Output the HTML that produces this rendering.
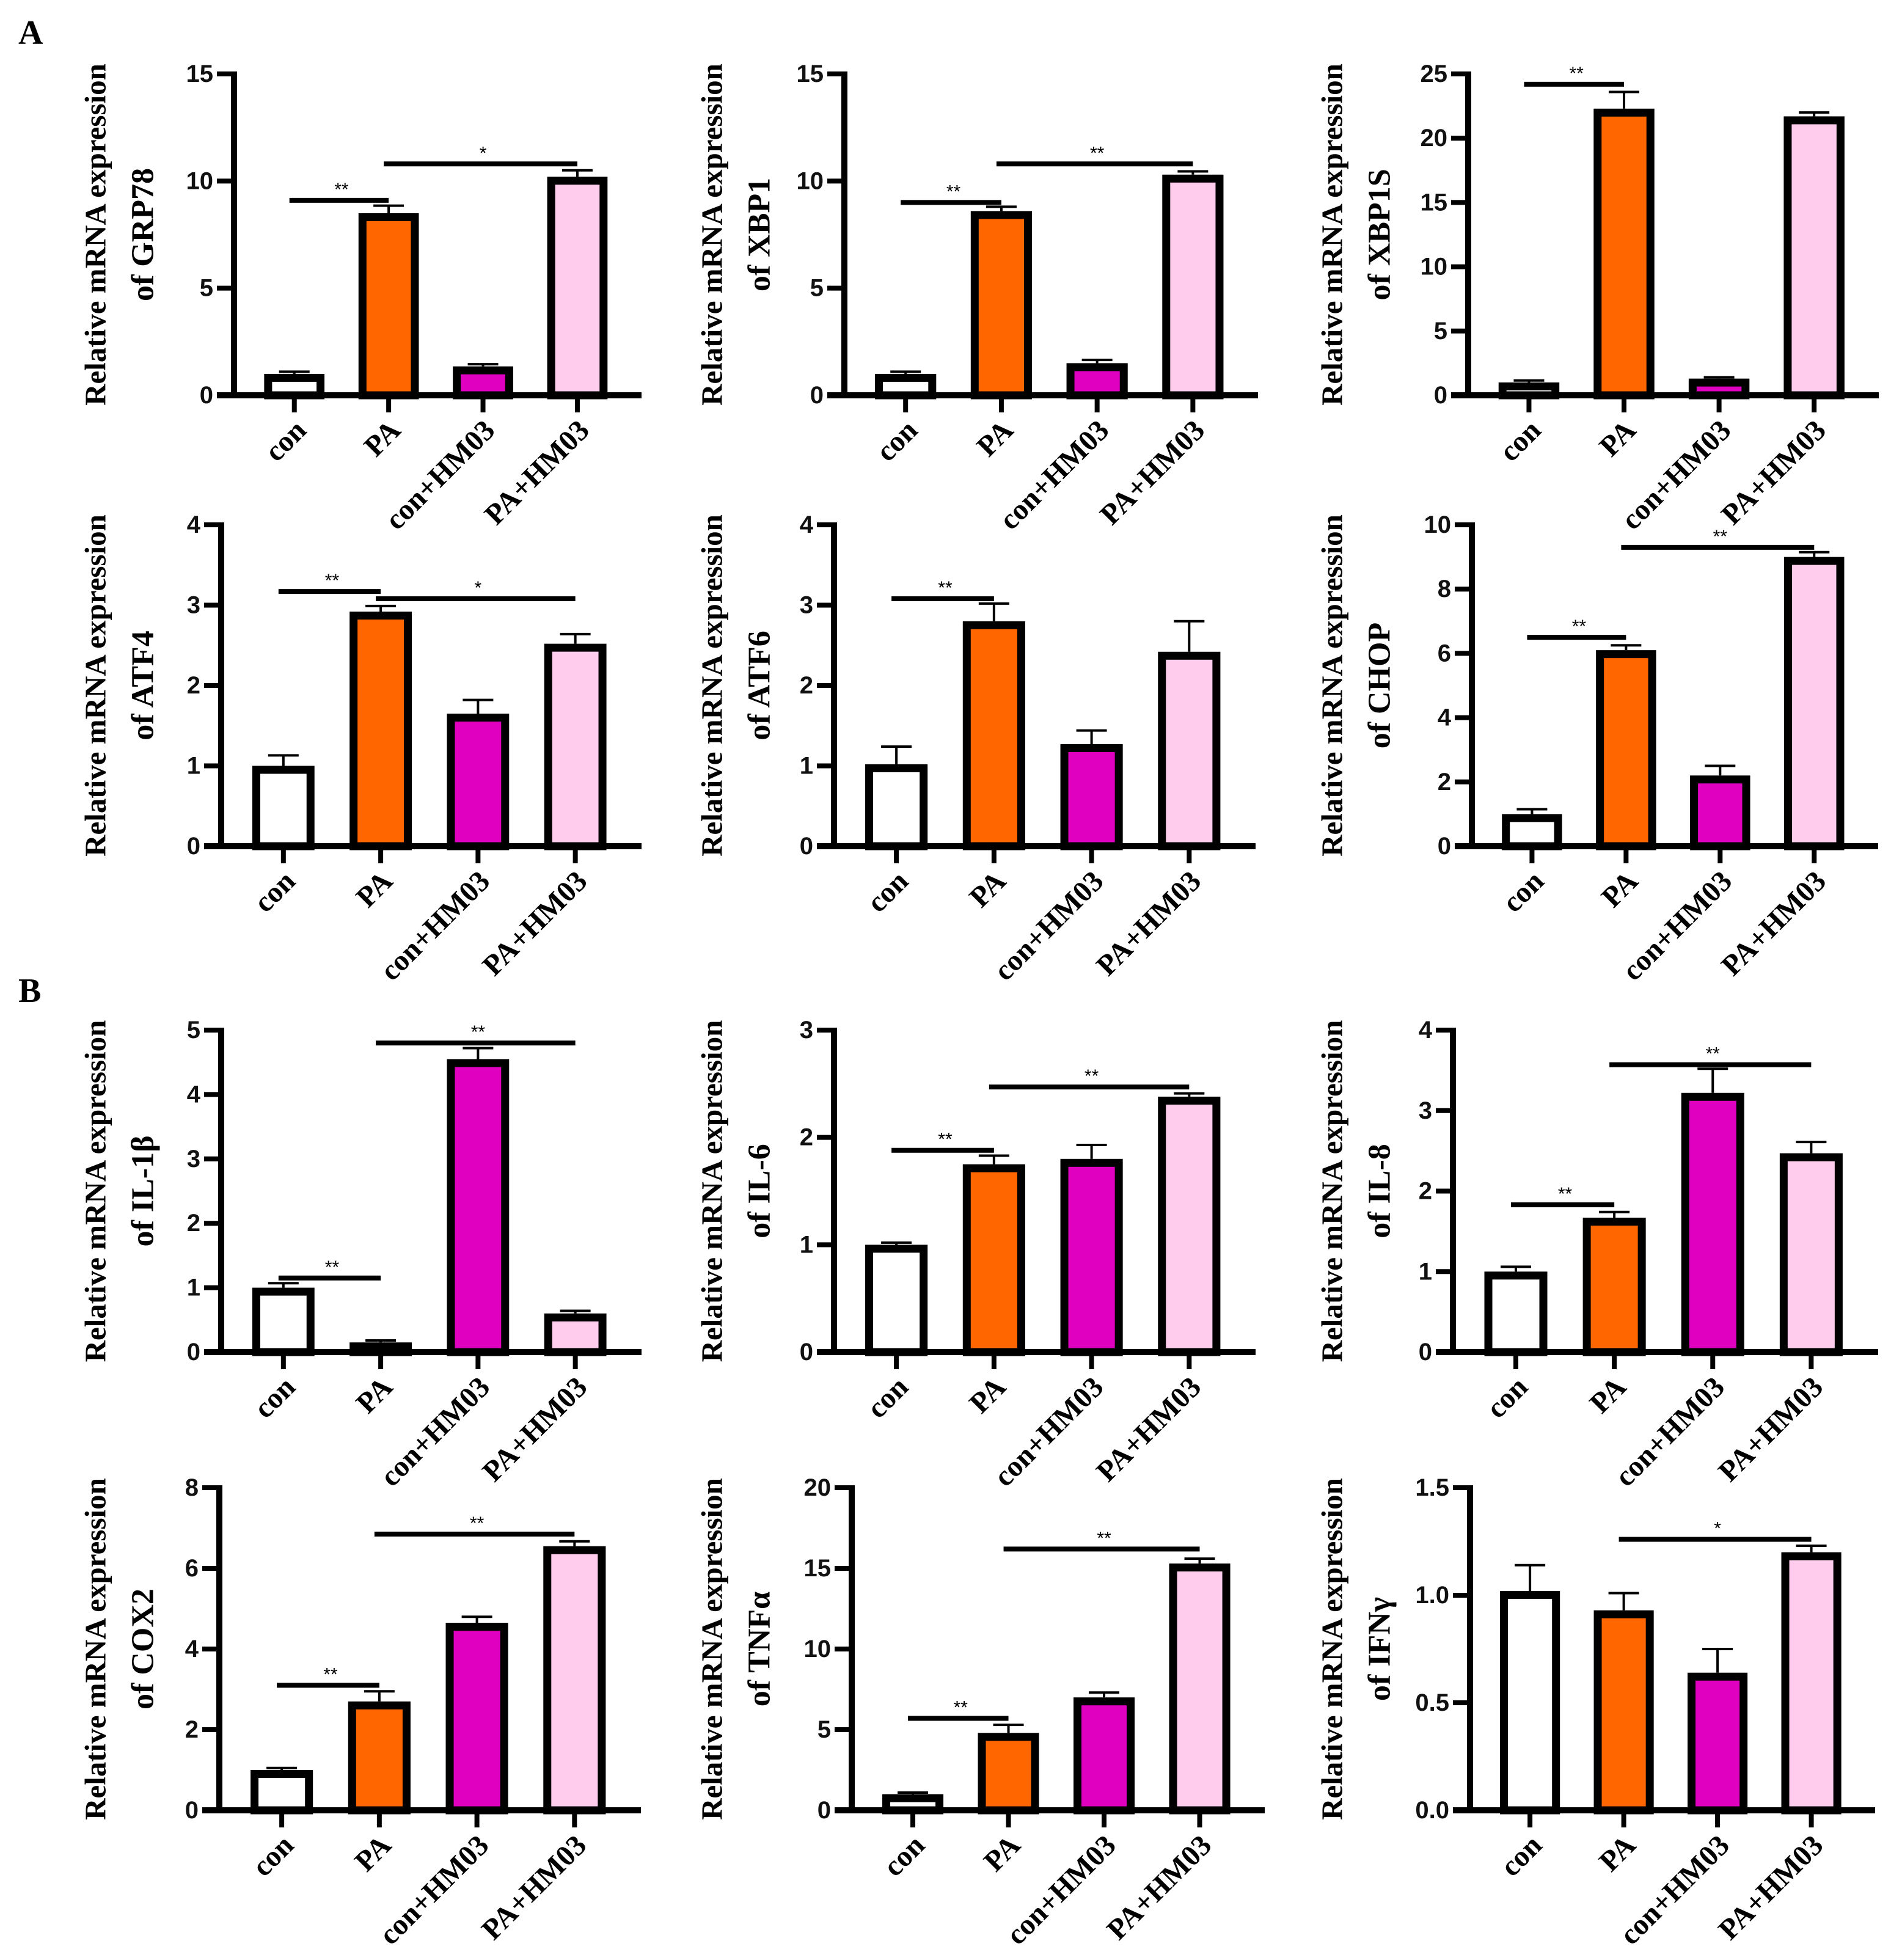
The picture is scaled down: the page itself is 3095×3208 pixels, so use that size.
<!DOCTYPE html>
<html><head><meta charset="utf-8"><style>
html,body{margin:0;padding:0;background:#fff;}
svg{display:block;}
.serif{font-family:"Liberation Serif","DejaVu Serif",serif;font-weight:bold;}
.sans{font-family:"Liberation Sans","DejaVu Sans",sans-serif;}
</style></head><body>
<svg id="fig" xmlns="http://www.w3.org/2000/svg" width="3095" height="3208" viewBox="0 0 3095 3208">
<rect x="0" y="0" width="3095" height="3208" fill="#fff"/>
<text class="serif" x="30" y="72" font-size="56">A</text>
<text class="serif" x="30" y="1640" font-size="56">B</text>
</svg>
<script>
const categories = ["con", "PA", "con+HM03", "PA+HM03"];
const barColors = ["#ffffff", "#ff6600", "#e000c0", "#ffccee"];

const grp78Values = [1.0, 8.5, 1.35, 10.2];
const grp78Errors = [0.1, 0.35, 0.1, 0.3];
const grp78Ticks = [0, 5, 10, 15];
const grp78Sig = [[0, 1, 9.1, "**"], [1, 3, 10.8, "*"]];

const xbp1Values = [1.0, 8.6, 1.5, 10.3];
const xbp1Errors = [0.1, 0.2, 0.15, 0.15];
const xbp1Ticks = [0, 5, 10, 15];
const xbp1Sig = [[0, 1, 9.0, "**"], [1, 3, 10.8, "**"]];

const xbp1sValues = [1.0, 22.3, 1.3, 21.7];
const xbp1sErrors = [0.15, 1.3, 0.1, 0.3];
const xbp1sTicks = [0, 5, 10, 15, 20, 25];
const xbp1sSig = [[0, 1, 24.2, "**"]];

const atf4Values = [1.0, 2.92, 1.65, 2.52];
const atf4Errors = [0.13, 0.07, 0.17, 0.12];
const atf4Ticks = [0, 1, 2, 3, 4];
const atf4Sig = [[0, 1, 3.17, "**"], [1, 3, 3.08, "*"]];

const atf6Values = [1.02, 2.8, 1.27, 2.42];
const atf6Errors = [0.22, 0.22, 0.17, 0.38];
const atf6Ticks = [0, 1, 2, 3, 4];
const atf6Sig = [[0, 1, 3.08, "**"]];

const chopValues = [1.0, 6.1, 2.2, 9.0];
const chopErrors = [0.15, 0.15, 0.3, 0.15];
const chopTicks = [0, 2, 4, 6, 8, 10];
const chopSig = [[0, 1, 6.5, "**"], [1, 3, 9.3, "**"]];

const il1bValues = [1.0, 0.15, 4.55, 0.6];
const il1bErrors = [0.07, 0.03, 0.17, 0.04];
const il1bTicks = [0, 1, 2, 3, 4, 5];
const il1bSig = [[0, 1, 1.15, "**"], [1, 3, 4.8, "**"]];

const il6Values = [1.0, 1.75, 1.8, 2.38];
const il6Errors = [0.02, 0.08, 0.13, 0.03];
const il6Ticks = [0, 1, 2, 3];
const il6Sig = [[0, 1, 1.88, "**"], [1, 3, 2.47, "**"]];

const il8Values = [1.0, 1.67, 3.22, 2.47];
const il8Errors = [0.06, 0.07, 0.3, 0.14];
const il8Ticks = [0, 1, 2, 3, 4];
const il8Sig = [[0, 1, 1.83, "**"], [1, 3, 3.57, "**"]];

const cox2Values = [1.0, 2.7, 4.65, 6.55];
const cox2Errors = [0.05, 0.25, 0.15, 0.12];
const cox2Ticks = [0, 2, 4, 6, 8];
const cox2Sig = [[0, 1, 3.1, "**"], [1, 3, 6.85, "**"]];

const tnfValues = [1.0, 4.8, 7.0, 15.3];
const tnfErrors = [0.1, 0.5, 0.3, 0.3];
const tnfTicks = [0, 5, 10, 15, 20];
const tnfSig = [[0, 1, 5.7, "**"], [1, 3, 16.2, "**"]];

const ifngValues = [1.02, 0.93, 0.64, 1.2];
const ifngErrors = [0.12, 0.08, 0.11, 0.03];
const ifngTicks = ["0.0", "0.5", "1.0", "1.5"];
const ifngSig = [[1, 3, 1.26, "*"]];

const NS = "http://www.w3.org/2000/svg";
const svg = document.getElementById("fig");
function mk(tag, attrs, parent) {
  const e = document.createElementNS(NS, tag);
  for (const k in attrs) e.setAttribute(k, attrs[k]);
  (parent || svg).appendChild(e);
  return e;
}

const panels = [
  {id:"grp78", gene:"GRP78", v:grp78Values, e:grp78Errors, t:grp78Ticks, s:grp78Sig, x0:383, x1:1050, top:121, bot:647, tx:156},
  {id:"xbp1", gene:"XBP1", v:xbp1Values, e:xbp1Errors, t:xbp1Ticks, s:xbp1Sig, x0:1382, x1:2059, top:121, bot:647, tx:1165},
  {id:"xbp1s", gene:"XBP1S", v:xbp1sValues, e:xbp1sErrors, t:xbp1sTicks, s:xbp1sSig, x0:2403, x1:3075, top:121, bot:647, tx:2180},
  {id:"atf4", gene:"ATF4", v:atf4Values, e:atf4Errors, t:atf4Ticks, s:atf4Sig, x0:362, x1:1050, top:859, bot:1385, tx:156},
  {id:"atf6", gene:"ATF6", v:atf6Values, e:atf6Errors, t:atf6Ticks, s:atf6Sig, x0:1365, x1:2055, top:859, bot:1385, tx:1165},
  {id:"chop", gene:"CHOP", v:chopValues, e:chopErrors, t:chopTicks, s:chopSig, x0:2409, x1:3074, top:859, bot:1385, tx:2180},
  {id:"il1b", gene:"IL-1β", v:il1bValues, e:il1bErrors, t:il1bTicks, s:il1bSig, x0:362, x1:1050, top:1686, bot:2213, tx:156},
  {id:"il6", gene:"IL-6", v:il6Values, e:il6Errors, t:il6Ticks, s:il6Sig, x0:1365, x1:2055, top:1686, bot:2213, tx:1165},
  {id:"il8", gene:"IL-8", v:il8Values, e:il8Errors, t:il8Ticks, s:il8Sig, x0:2378, x1:3074, top:1686, bot:2213, tx:2180},
  {id:"cox2", gene:"COX2", v:cox2Values, e:cox2Errors, t:cox2Ticks, s:cox2Sig, x0:359, x1:1049, top:2435, bot:2963, tx:156},
  {id:"tnfa", gene:"TNFα", v:tnfValues, e:tnfErrors, t:tnfTicks, s:tnfSig, x0:1394, x1:2070, top:2435, bot:2963, tx:1165},
  {id:"ifng", gene:"IFNγ", v:ifngValues, e:ifngErrors, t:ifngTicks, s:ifngSig, x0:2406, x1:3069, top:2435, bot:2963, tx:2180}
];

panels.forEach(p => {
  const g = mk("g", {});
  
  
  const tickNums = p.t.map(Number);
  const ymax = tickNums[tickNums.length - 1];
  const yS = val => p.bot - (val / ymax) * (p.bot - p.top);
  const len = p.x1 - p.x0;
  const xS = i => p.x0 + len * (0.148 + i * 0.2315);
  const bw = len * 0.148;

  const cy = (p.top + p.bot) / 2;
  const t1 = mk("text", {x: p.tx, y: cy, transform: `rotate(-90 ${p.tx} ${cy})`, "text-anchor":"middle", "dominant-baseline":"central", class:"serif", "font-size":"49", fill:"#000"}, g);
  t1.textContent = "Relative mRNA expression";
  
  
  const t2x = p.tx + 78;
  const t2 = mk("text", {x: t2x, y: cy, transform: `rotate(-90 ${t2x} ${cy})`, "text-anchor":"middle", "dominant-baseline":"central", class:"serif", "font-size":"52", fill:"#000"}, g);
  t2.textContent = "of " + p.gene;
  
  

  p.v.forEach((val, i) => {
    const cx = xS(i);
    const yt = yS(val);
    const eb = mk("line", {x1: cx, x2: cx, y1: yt, y2: yS(val + p.e[i]), stroke:"#000", "stroke-width":"4"}, g);
    
    
    const ec = mk("line", {x1: cx - 25, x2: cx + 25, y1: yS(val + p.e[i]), y2: yS(val + p.e[i]), stroke:"#000", "stroke-width":"4"}, g);
    
    
    const r = mk("rect", {x: cx - bw/2 + 6.5, y: yt + 6.5, width: bw - 13, height: Math.max(0, p.bot - yt - 6.5), fill: barColors[i], stroke:"#000", "stroke-width":"13"}, g);
    
    
    const xt = mk("line", {x1: cx, x2: cx, y1: p.bot, y2: p.bot + 28, stroke:"#000", "stroke-width":"8"}, g);
    
    
    const lx = cx + 22, ly = p.bot + 60;
    const lab = mk("text", {x: lx, y: ly, transform: `rotate(-45 ${lx} ${ly})`, "text-anchor":"end", class:"serif", "font-size":"48", fill:"#000"}, g);
    lab.textContent = categories[i];
    
    
  });

  const ya = mk("line", {x1: p.x0, x2: p.x0, y1: p.top - 4, y2: p.bot + 5, stroke:"#000", "stroke-width":"10"}, g);
  
  
  const xa = mk("line", {x1: p.x0 - 28, x2: p.x1, y1: p.bot, y2: p.bot, stroke:"#000", "stroke-width":"10"}, g);
  
  
  p.t.forEach((tv, k) => {
    const y = yS(Number(tv));
    const tk = mk("line", {x1: p.x0 - 28, x2: p.x0, y1: y, y2: y, stroke:"#000", "stroke-width":"8"}, g);
    
    
    const tl = mk("text", {x: p.x0 - 34, y: y, "text-anchor":"end", "dominant-baseline":"central", class:"sans", "font-weight":"bold", "font-size":"40", fill:"#111"}, g);
    tl.textContent = String(tv);
    
    
  });

  p.s.forEach((sg, k) => {
    const y = yS(sg[2]);
    const sl = mk("line", {x1: xS(sg[0]) - 8, x2: xS(sg[1]), y1: y, y2: y, stroke:"#000", "stroke-width":"8"}, g);
    
    
    const st = mk("text", {x: (xS(sg[0]) + xS(sg[1])) / 2, y: y - 8, "text-anchor":"middle", class:"sans", "font-size":"30", fill:"#000"}, g);
    st.textContent = sg[3];
    
    
  });
});
</script>
</body></html>
